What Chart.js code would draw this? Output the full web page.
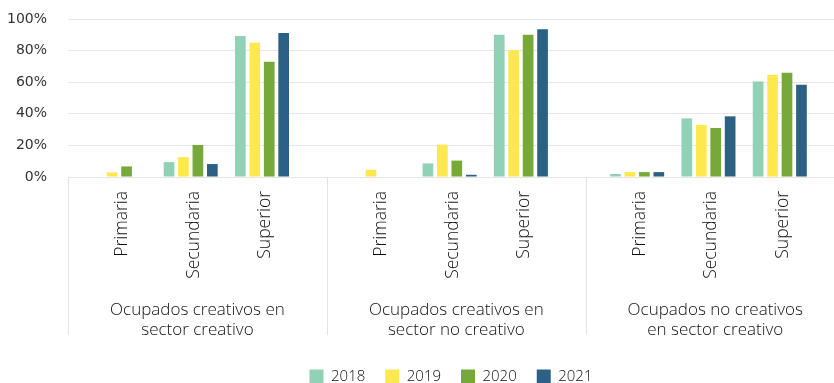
<!DOCTYPE html>
<html lang="es">
<head>
<meta charset="utf-8">
<script src="https://cdn.jsdelivr.net/npm/chart.js@4.4.0/dist/chart.umd.min.js"></script>
<style>
  html, body { margin: 0; padding: 0; background: #fff; }
</style>
</head>
<body>
<canvas id="chart" width="834" height="383"></canvas>
<script>
/* Nivel educativo de los ocupados, por tipo de ocupación y sector (2018-2021) */

const groups = [
  ['Ocupados creativos en', 'sector creativo'],
  ['Ocupados creativos en', 'sector no creativo'],
  ['Ocupados no creativos', 'en sector creativo']
];
const levels = ['Primaria', 'Secundaria', 'Superior'];
const years = ['2018', '2019', '2020', '2021'];

// % per group x level (Primaria, Secundaria, Superior for each group)
const v2018 = [0, 9.4, 89.3, 0, 8.6, 90.1, 1.9, 37.1, 60.4];
const v2019 = [2.9, 12.6, 84.9, 4.6, 20.5, 80.3, 3.1, 32.9, 64.6];
const v2020 = [6.7, 20.3, 73.0, 0, 10.4, 90.1, 3.1, 31.0, 66.0];
const v2021 = [0, 8.2, 91.2, 0, 1.4, 93.5, 3.1, 38.4, 58.4];
const series = [v2018, v2019, v2020, v2021];

const yTicks = [0, 20, 40, 60, 80, 100];

// layout
const colors = ['#91d1b6', '#fde84e', '#76a93a', '#2c6185'];
const GAP = 0.63;            // extra room between groups, in category widths
const STRIDE = 3 + GAP;
const EDGE = 0.72;           // separator -> first category
const catX = i => (i % 3) + Math.floor(i / 3) * STRIDE;
const xMin = -EDGE;
const xMax = 2 * STRIDE + 2 + 0.76;
const catTicks = levels.flatMap((_, i) => groups.map((__, g) => g * STRIDE + i)).sort((a, b) => a - b);
const groupTicks = groups.map((_, g) => g * STRIDE - EDGE + STRIDE / 2);
const separators = groups.map((_, g) => g * STRIDE - EDGE);

const FONT = "'DejaVu Sans', sans-serif";
const LIGHT = "'Open Sans', 'DejaVu Sans', sans-serif";

const separatorPlugin = {
  id: 'separators',
  afterDraw(chart) {
    const x = chart.scales.x, xg = chart.scales.xg, ctx = chart.ctx;
    ctx.save();
    ctx.strokeStyle = '#e3e3e3';
    ctx.lineWidth = 1;
    separators.forEach(b => {
      const px = Math.round(x.getPixelForValue(b)) + 0.5;
      ctx.beginPath();
      ctx.moveTo(px, chart.chartArea.bottom);
      ctx.lineTo(px, xg.bottom - 14);
      ctx.stroke();
    });
    ctx.restore();
  }
};

new Chart(document.getElementById('chart'), {
  type: 'bar',
  data: {
    datasets: years.map((y, k) => ({
      label: y,
      data: series[k].map((v, i) => ({ x: catX(i), y: v })),
      backgroundColor: colors[k],
      borderWidth: 0,
      categoryPercentage: 0.81,
      barPercentage: 0.74
    }))
  },
  options: {
    responsive: false,
    animation: false,
    layout: { padding: { top: 19, left: 0, right: 0, bottom: -11 } },
    plugins: {
      legend: {
        position: 'bottom',
        fullSize: false,
        labels: { font: { family: LIGHT, size: 15, weight: '300' }, color: '#111', boxWidth: 14, boxHeight: 14, padding: 20 }
      },
      tooltip: { enabled: false }
    },
    scales: {
      x: {
        type: 'linear',
        min: xMin,
        max: xMax,
        offset: false,
        weight: 0,
        grid: { display: false, drawTicks: false, offset: false },
        border: { display: false },
        afterBuildTicks: s => { s.ticks = catTicks.map(v => ({ value: v })); },
        afterFit: s => { s.height = 102; },
        ticks: {
          autoSkip: false,
          minRotation: 90,
          maxRotation: 90,
          padding: 14,
          labelOffset: 3,
          color: '#111',
          font: { family: LIGHT, size: 17.5, weight: '300' },
          callback: (v, i) => levels[i % 3]
        }
      },
      xg: {
        type: 'linear',
        position: 'bottom',
        min: xMin,
        max: xMax,
        offset: false,
        weight: 1,
        grid: { display: false, drawTicks: false },
        border: { display: false },
        afterBuildTicks: s => { s.ticks = groupTicks.map(v => ({ value: v })); },
        afterFit: s => { s.height = 70; },
        ticks: {
          autoSkip: false,
          maxRotation: 0,
          padding: 21,
          color: '#111',
          font: { family: LIGHT, size: 17, weight: '300', lineHeight: 1.18 },
          callback: (v, i) => groups[i]
        }
      },
      y: {
        min: 0,
        max: 100,
        afterBuildTicks: s => { s.ticks = yTicks.map(v => ({ value: v })); },
        afterFit: s => { s.width = 68; },
        grid: { color: '#e6e6e6', drawTicks: true, tickLength: 21, tickColor: 'rgba(0,0,0,0)' },
        border: { display: false },
        ticks: {
          padding: 0,
          color: '#333',
          font: { family: FONT, size: 14 },
          callback: v => v + '%'
        }
      }
    }
  },
  plugins: [separatorPlugin]
});
</script>
</body>
</html>
